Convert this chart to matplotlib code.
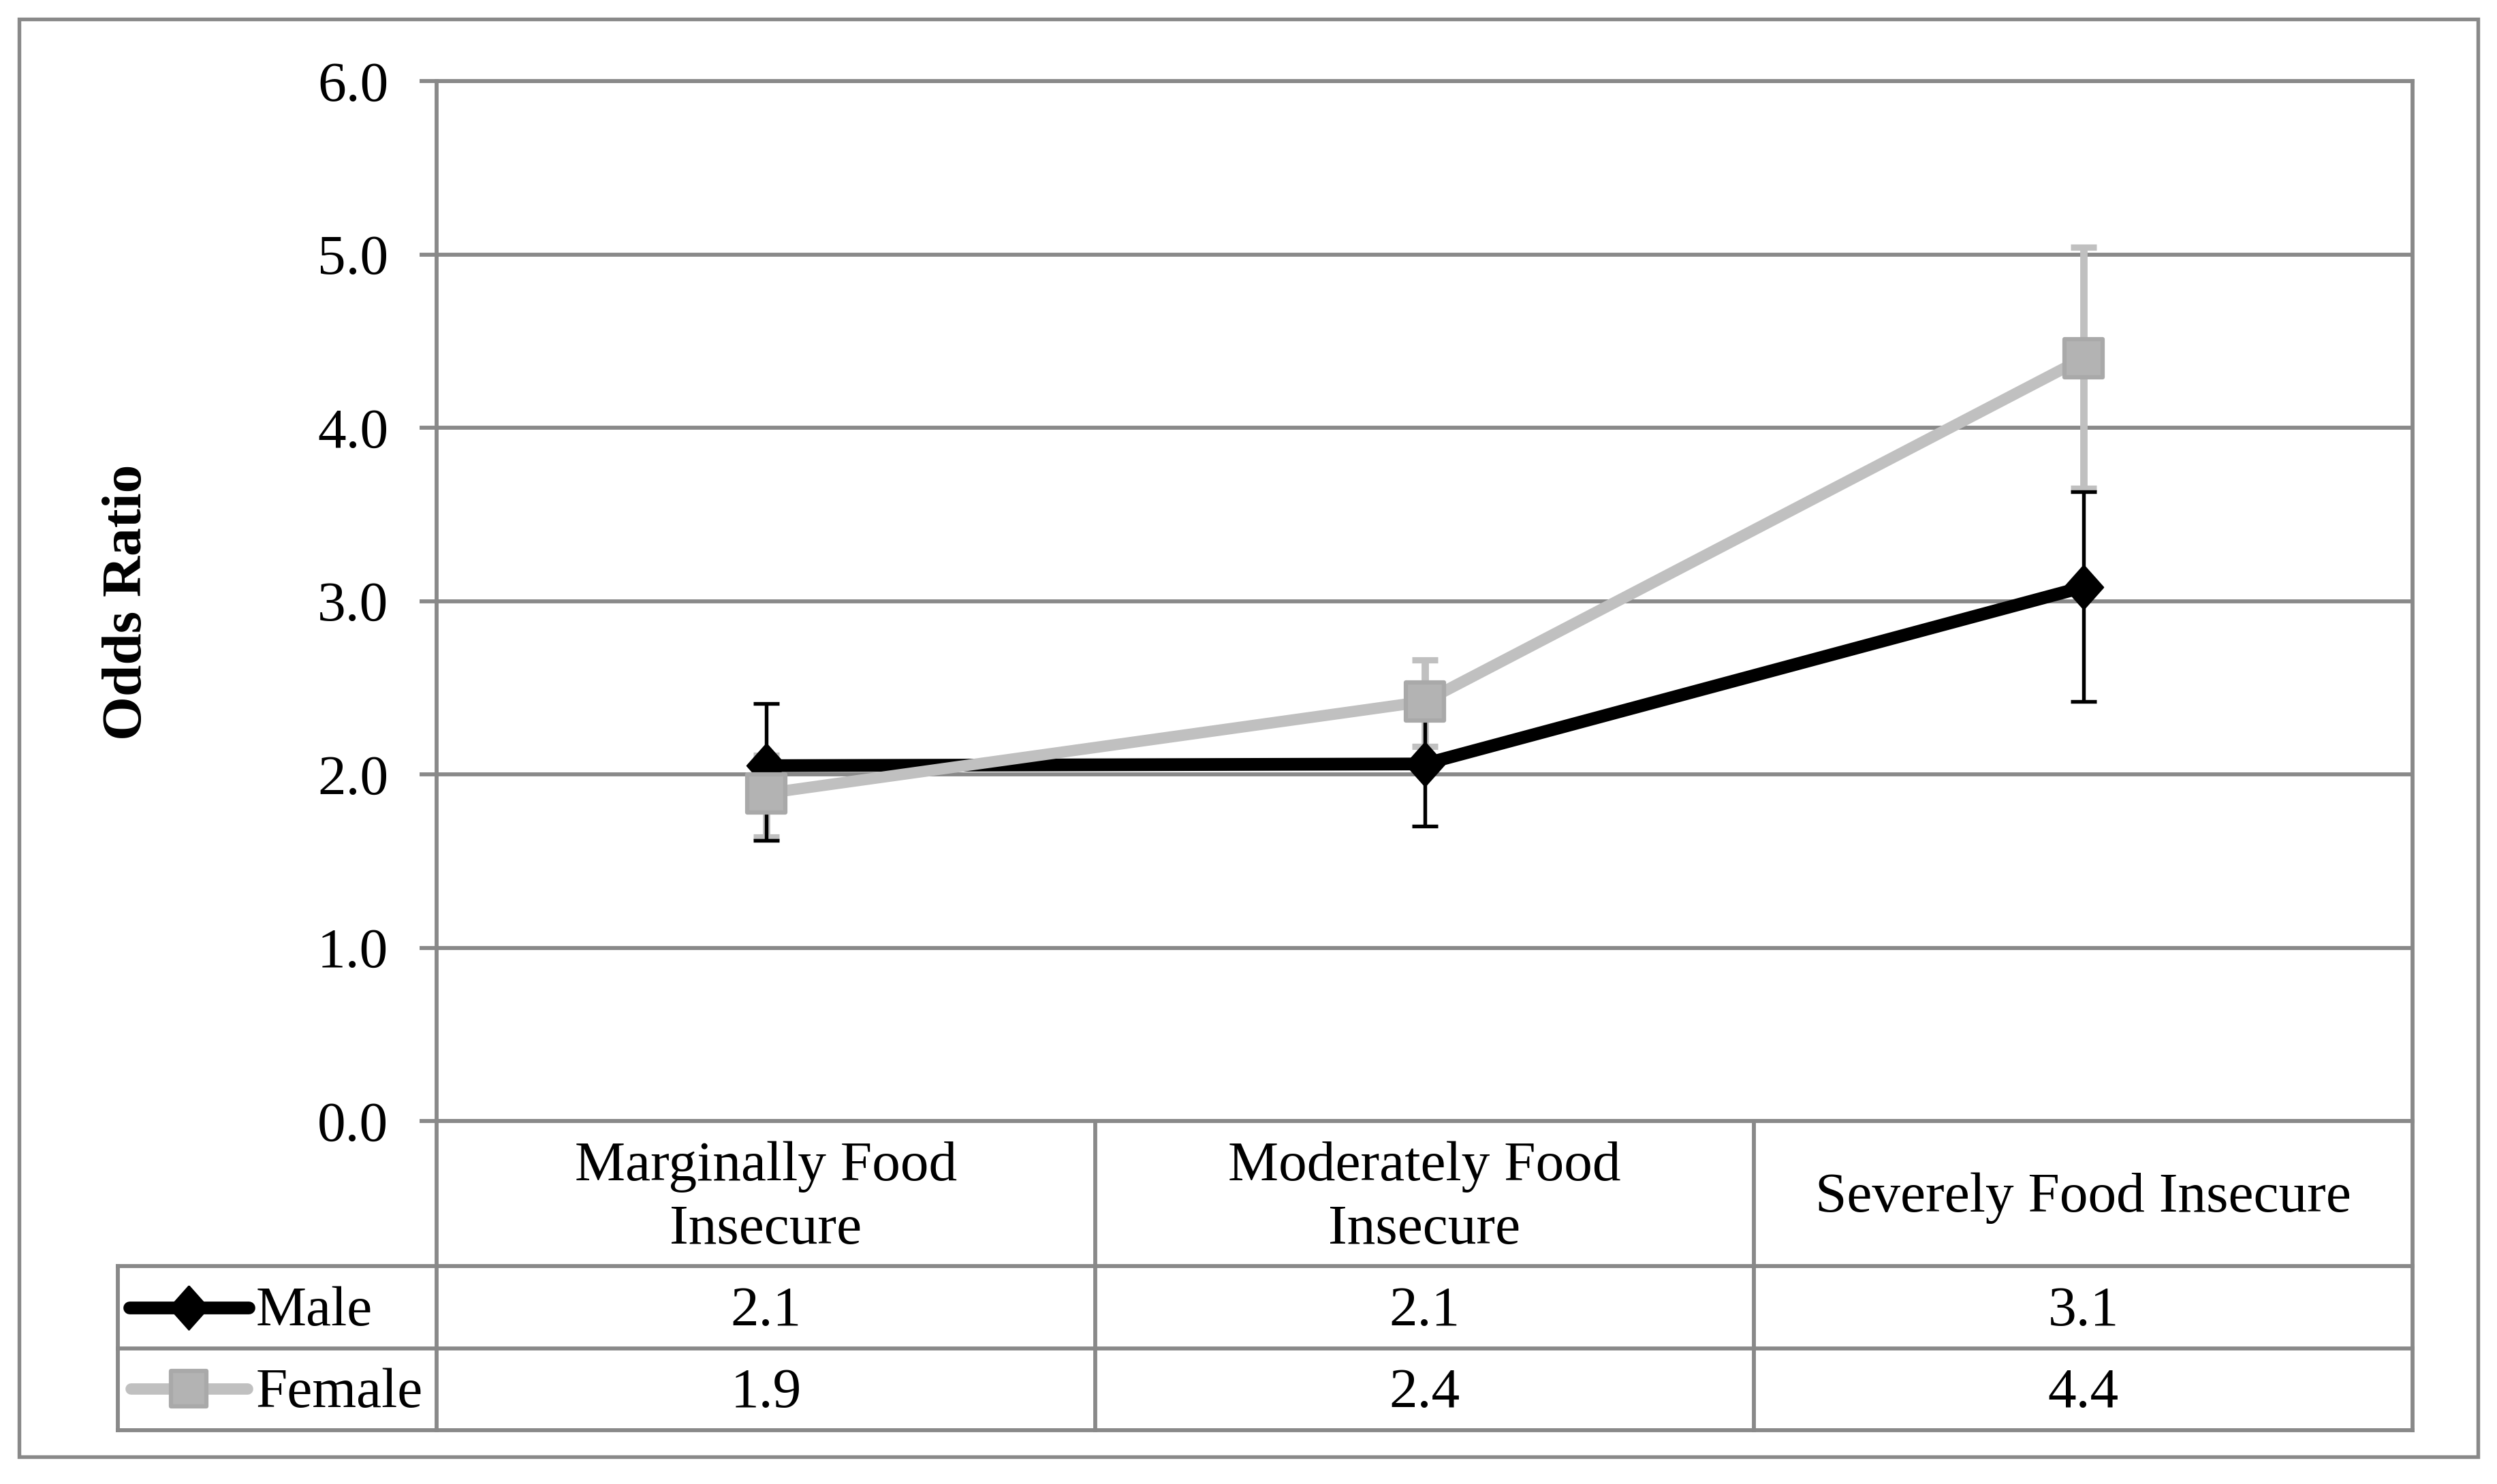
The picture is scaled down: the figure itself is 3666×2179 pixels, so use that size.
import matplotlib
matplotlib.use("Agg")
import matplotlib.pyplot as plt
from matplotlib.lines import Line2D
from matplotlib.markers import MarkerStyle
from matplotlib.transforms import blended_transform_factory
import numpy as np

# ---------------- data ----------------
categories = ["Marginally Food\nInsecure", "Moderately Food\nInsecure", "Severely Food Insecure"]
series_names = ["Male", "Female"]
male_or = [2.05, 2.06, 3.08]
male_lo = [1.62, 1.70, 2.42]
male_hi = [2.41, 2.45, 3.63]
female_or = [1.89, 2.42, 4.40]
female_lo = [1.64, 2.16, 3.65]
female_hi = [2.11, 2.66, 5.04]
male_labels = ["2.1", "2.1", "3.1"]
female_labels = ["1.9", "2.4", "4.4"]
y_ticks = [0.0, 1.0, 2.0, 3.0, 4.0, 5.0, 6.0]
y_tick_labels = ["0.0", "1.0", "2.0", "3.0", "4.0", "5.0", "6.0"]
y_label = "Odds Ratio"

# ---------------- style ----------------
plt.rcParams['font.family'] = ['Liberation Serif', 'DejaVu Serif']
W, H = 3666, 2179
DPI = 300
GRID = '#898989'
FS = 20
MALE_C = 'black'
FEM_LINE = '#c0c0c0'
FEM_FACE = '#b3b3b3'
FEM_EDGE = '#a9a9a9'

fig = plt.figure(figsize=(W / DPI, H / DPI), dpi=DPI)
fig.patch.set_facecolor('white')

def fx(px):
    return px / W

def fy(py):
    return 1 - py / H

# plot area (pixels)
L, R, T, B = 641, 3542, 119, 1646
ax = fig.add_axes([fx(L), fy(B), fx(R) - fx(L), fy(T) - fy(B)])

x = np.arange(len(categories))
male = np.array(male_or)
fem = np.array(female_or)

diamond = MarkerStyle([(0, 1), (0.89, 0), (0, -1), (-0.89, 0), (0, 1)])
rsquare = MarkerStyle('s', joinstyle='round')

ax.errorbar(x, fem, yerr=[fem - np.array(female_lo), np.array(female_hi) - fem],
            fmt='none', ecolor=FEM_LINE, elinewidth=2.6, capsize=4.6, capthick=2.2, zorder=2)
ax.errorbar(x, male, yerr=[male - np.array(male_lo), np.array(male_hi) - male],
            fmt='none', ecolor=MALE_C, elinewidth=1.3, capsize=4.6, capthick=1.3, zorder=2.1)
ax.plot(x, male, color=MALE_C, lw=4.5, marker=diamond, markersize=15.5,
        markerfacecolor=MALE_C, markeredgecolor=MALE_C, markeredgewidth=0.5,
        solid_capstyle='round', solid_joinstyle='round', zorder=3)
ax.plot(x, fem, color=FEM_LINE, lw=4.0, marker=rsquare, markersize=13.5,
        markerfacecolor=FEM_FACE, markeredgecolor=FEM_EDGE, markeredgewidth=1.5,
        solid_capstyle='round', solid_joinstyle='round', zorder=4)

ax.set_xlim(-0.5, len(categories) - 0.5)
ax.set_ylim(y_ticks[0], y_ticks[-1])
ax.set_yticks(y_ticks)
ax.set_yticklabels(y_tick_labels, fontsize=FS)
ax.set_xticks([])
ax.yaxis.grid(True, color=GRID, lw=1.4, zorder=0)
ax.set_axisbelow(True)
for s in ax.spines.values():
    s.set_color(GRID)
    s.set_linewidth(1.4)
ax.tick_params(axis='y', length=6, width=1.4, color=GRID, pad=11, direction='out')

fig.text(fx(187), fy(884), y_label, rotation=90, fontsize=FS, fontweight='bold',
         ha='center', va='center')

# ---------------- data table under the axis ----------------
bt = blended_transform_factory(ax.transData, fig.transFigure)
row_cat_bot, row_m_bot, row_f_bot = 1859, 1980, 2100
tbl_left = 173

def hline(y, x0, x1):
    fig.add_artist(Line2D([fx(x0), fx(x1)], [fy(y), fy(y)], transform=fig.transFigure,
                          color=GRID, lw=1.4, solid_capstyle='projecting'))

def vline_px(xp, y0, y1):
    fig.add_artist(Line2D([fx(xp), fx(xp)], [fy(y0), fy(y1)], transform=fig.transFigure,
                          color=GRID, lw=1.4, solid_capstyle='projecting'))

for yy in [row_cat_bot, row_m_bot, row_f_bot]:
    hline(yy, tbl_left, R)
vline_px(tbl_left, row_cat_bot, row_f_bot)
vline_px(L, B, row_f_bot)
vline_px(R, B, row_f_bot)
for b in np.arange(len(categories) - 1) + 0.5:
    fig.add_artist(Line2D([b, b], [fy(B), fy(row_f_bot)], transform=bt,
                          color=GRID, lw=1.4))

cat_center = (B + row_cat_bot) / 2 + 7
for xi, c in zip(x, categories):
    fig.text(xi, fy(cat_center), c, transform=bt, fontsize=FS, ha='center',
             va='center', linespacing=1.3)

m_base, f_base = 1946, 2066
for xi, ml, fl in zip(x, male_labels, female_labels):
    fig.text(xi, fy(m_base), ml, transform=bt, fontsize=FS, ha='center', va='baseline')
    fig.text(xi, fy(f_base), fl, transform=bt, fontsize=FS, ha='center', va='baseline')

# legend keys in the table
m_mid, f_mid = 1920, 2039
fig.add_artist(Line2D([fx(190), fx(365)], [fy(m_mid), fy(m_mid)], transform=fig.transFigure,
                      color=MALE_C, lw=4.5, solid_capstyle='round'))
fig.add_artist(Line2D([fx(277)], [fy(m_mid)], transform=fig.transFigure, marker=diamond,
                      markersize=15.5, color=MALE_C, markeredgewidth=0.5, linestyle='none'))
fig.add_artist(Line2D([fx(192), fx(363)], [fy(f_mid), fy(f_mid)], transform=fig.transFigure,
                      color=FEM_LINE, lw=4.0, solid_capstyle='round'))
fig.add_artist(Line2D([fx(277)], [fy(f_mid)], transform=fig.transFigure, marker=rsquare,
                      markersize=12.5, markerfacecolor=FEM_FACE, markeredgecolor=FEM_EDGE,
                      markeredgewidth=1.5, linestyle='none'))
fig.text(fx(376), fy(m_base), series_names[0], fontsize=FS, ha='left', va='baseline')
fig.text(fx(376), fy(f_base), series_names[1], fontsize=FS, ha='left', va='baseline')

# outer frame
fig.add_artist(plt.Rectangle((fx(28), fy(2139)), fx(3638) - fx(28), fy(28) - fy(2139),
                             transform=fig.transFigure, fill=False, edgecolor=GRID, lw=1.3))

fig.savefig('out.png', dpi=DPI, facecolor='white')
